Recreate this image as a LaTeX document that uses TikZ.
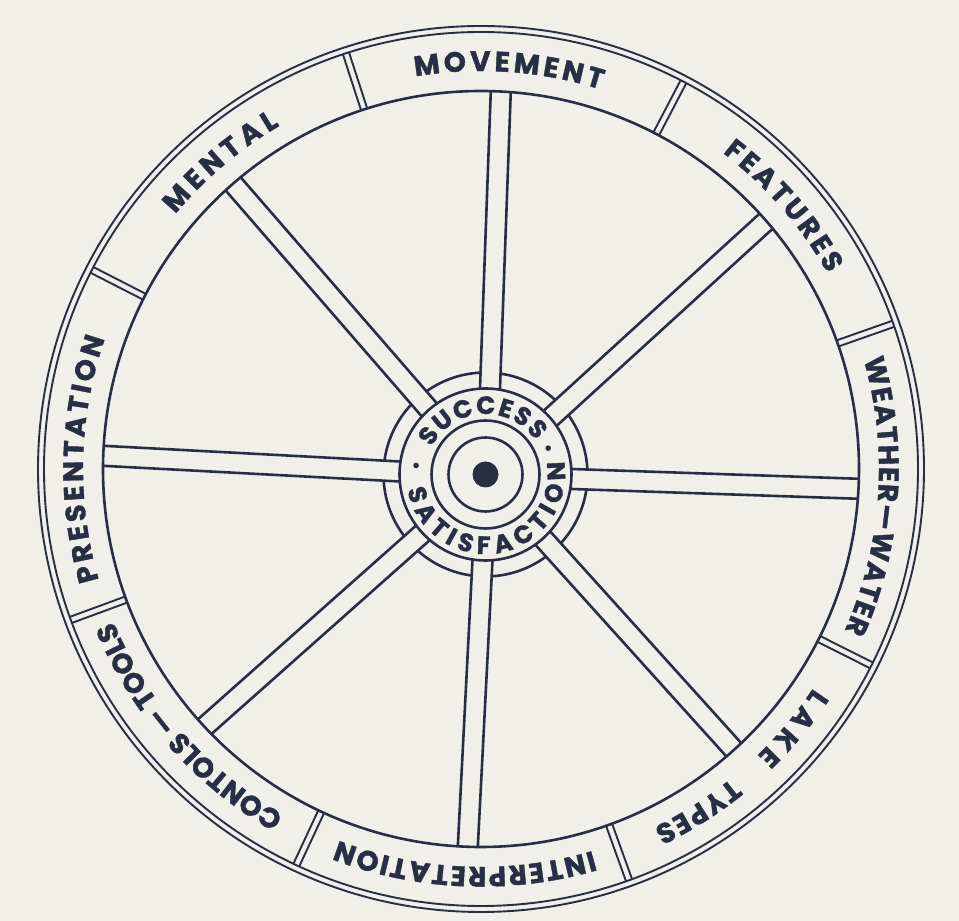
\documentclass[tikz,border=0pt]{standalone}
\usepackage{fontspec}
\usetikzlibrary{decorations.text,calc}
\newfontfamily\wheelfont{Poppins}[FakeBold=1.4]
\definecolor{wheelInk}{RGB}{40,47,68}
\definecolor{wheelPaper}{RGB}{240,239,233}
\newcommand\rimfont{\wheelfont\bfseries\fontsize{28}{28}\selectfont}
\newcommand\hubfont{\wheelfont\bfseries\fontsize{25}{25}\selectfont}

\begin{document}
\begin{tikzpicture}[x=1pt,y=1pt,
      ink/.style={draw=wheelInk,line width=2.6pt},
      thin/.style={draw=wheelInk,line width=1.9pt},
      rimlabel/.style={decorate,decoration={text along path,text align=fit to path,text color=wheelInk,text={|\rimfont|#1}}},
      hublabel/.style={decorate,decoration={text along path,text align=fit to path,text color=wheelInk,text={|\hubfont|#1}}}
    ]
    \fill[wheelPaper] (0,0) rectangle (959,921);
    \useasboundingbox (0,0) rectangle (959,921);
    \coordinate (rim) at (481,452);
    \coordinate (hub) at (485.5,446.5);
    \draw[thin] (rim) circle[radius=437];
    \draw[thin] (rim) circle[radius=443];
    \draw[ink] (rim) circle[radius=378];
    \foreach \d in {108,62.4,19.4,-26.7,-70.2,-115,-159.8,152.9}
      \foreach \o in {-3.2,3.2}
        \draw[thin] ($(rim)+(\d:378)+(\d+90:\o)$) -- ($(rim)+(\d:437)+(\d+90:\o)$);
    \foreach \a in {87,41,-3,-48,-92,-137,178,131}
      \foreach \o in {-10,10}
        \draw[ink] ($(hub)+(\a:85.4)+(\a+90:\o)$) -- ($(rim)+(\a:377.9)+(\a+90:\o)$);
    \foreach \a/\b in {87/41,41/-3,-3/-48,-48/-92,-92/-137,-137/-182,-182/-229,-229/-273}
      \draw[ink] ($(hub)+(\b+5.6:102)$) arc[start angle=\b+5.6,end angle=\a-5.6,radius=102];
    \draw[ink] (hub) circle[radius=86];
    \draw[ink] (hub) circle[radius=54];
    \draw[ink] (hub) circle[radius=37];
    \fill[wheelInk] (hub) circle[radius=13];
    \foreach \s/\e/\t in {99.5/72.5/MOVEMENT,52.6/29.4/FEATURES,16/-24/WEATHER—WATER,-33.4/-46.1/LAKE,-51/-64.3/TYPES,-73.7/-111/INTERPRETATION,-119.7/-157.2/CONTOLS — TOOLS,196.2/160.9/PRESENTATION,140.2/120.4/MENTAL}
      \path[rimlabel/.expanded=\t] ($(rim)+(\s:398)$) arc[start angle=\s,end angle=\e,radius=398];
    \path[hublabel=SUCCESS] ($(hub)+(153:60.5)$) arc[start angle=153,end angle=34,radius=60.5];
    \path[hublabel=SATISFACTION] ($(hub)+(191:79.5)$) arc[start angle=191,end angle=369.5,radius=79.5];
    \fill[wheelInk] ($(hub)+(172.6:70)$) circle[radius=2.8];
    \fill[wheelInk] ($(hub)+(22.8:68)$) circle[radius=2.8];
  \end{tikzpicture}
\end{document}
